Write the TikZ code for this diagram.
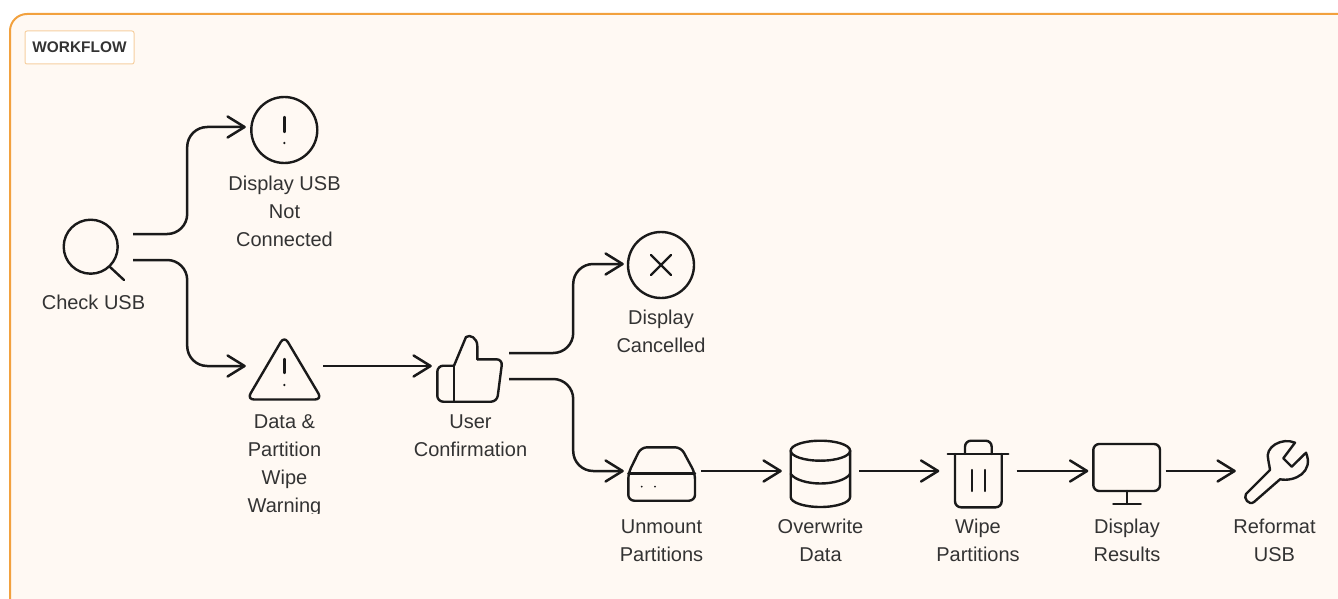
\documentclass[tikz,border=0pt]{standalone}
\usepackage{fontspec}
\setmainfont{Liberation Sans}
\usepackage{tikz}
\usetikzlibrary{arrows.meta}
\definecolor{frameorange}{HTML}{F2A13E}
\definecolor{framefill}{HTML}{FFF9F3}
\definecolor{badgeline}{HTML}{F6CFA0}
\definecolor{inkblack}{HTML}{1A1A1A}
\definecolor{labelgrey}{HTML}{333333}
\tikzset{
    iconbox/.style={inner sep=0, minimum width=77pt, minimum height=77pt},
    iconline/.style={draw=inkblack, line width=2.4pt, line join=round, line cap=round},
    flow/.style={draw=inkblack, line width=2.5pt, rounded corners=20pt,
        -{Straight Barb[length=17pt, width=21pt, line width=2.5pt, round]}},
    steplabel/.style={align=center, text=labelgrey, font=\fontsize{20}{28}\selectfont},
}

\begin{document}
\begin{tikzpicture}[x=1pt, y=-1pt]
    \useasboundingbox (0,0) rectangle (1338,599);
    \clip (0,0) rectangle (1338,599);

    \draw[frameorange, fill=framefill, line width=2pt, rounded corners=17pt] (10,14) rectangle (1370,640);
    \node[draw=badgeline, fill=white, rounded corners=2pt, line width=1pt, inner sep=0,
        minimum width=109pt, minimum height=33pt, text=labelgrey,
        font=\fontsize{15.4}{18}\selectfont\bfseries] (badge) at (79.5,47.5) {WORKFLOW};

    % icon slots, the connectors end on their sides
    \node[iconbox] (check) at (94.5,247) {};
    \node[iconbox] (notconn) at (284.5,127) {};
    \node[iconbox] (warn) at (284.5,366) {};
    \node[iconbox] (confirm) at (470.5,366) {};
    \node[iconbox] (cancelled) at (662.5,264) {};
    \node[iconbox] (unmount) at (662.5,471) {};
    \node[iconbox] (overwrite) at (820.5,471) {};
    \node[iconbox] (wipe) at (978,471) {};
    \node[iconbox] (results) at (1127,471) {};
    \node[iconbox] (reformat) at (1274.5,471) {};

    % labels
    \node[steplabel] (checklbl) at (93.5,302) {Check USB};
    \node[steplabel] (notconnlbl) at (284.5,211) {Display USB\\Not\\Connected};
    \node[steplabel] (confirmlbl) at (470.5,436) {User\\Confirmation};
    \node[steplabel] (cancelledlbl) at (661,331) {Display\\Cancelled};
    \node[steplabel] (unmountlbl) at (661.5,540.5) {Unmount\\Partitions};
    \node[steplabel] (overwritelbl) at (820.5,540) {Overwrite\\Data};
    \node[steplabel] (wipelbl) at (978,540) {Wipe\\Partitions};
    \node[steplabel] (resultslbl) at (1127,540) {Display\\Results};
    \node[steplabel] (reformatlbl) at (1274.5,540) {Reformat\\USB};
    \begin{scope}
        \clip (200,400) rectangle (400,513);
        \node[steplabel] (warnlbl) at (284.5,466) {Data \&\\Partition\\Wipe\\Warning};
    \end{scope}

    % connectors
    \draw[flow] ([yshift=13pt]check.east) -- ++(54,0) |- (notconn.west);
    \draw[flow] ([yshift=-13pt]check.east) -- ++(54,0) |- (warn.west);
    \draw[flow] (warn.east) -- (confirm.west);
    \draw[flow] ([yshift=13pt]confirm.east) -- ++(64,0) |- (cancelled.west);
    \draw[flow] ([yshift=-13pt]confirm.east) -- ++(64,0) |- (unmount.west);
    \draw[flow] (unmount.east) -- (overwrite.west);
    \draw[flow] (overwrite.east) -- (wipe.west);
    \draw[flow] (wipe.east) -- (results.west);
    \draw[flow] (results.east) -- (reformat.west);

    % magnifier
    \draw[iconline] (90.7,246.7) circle (27);
    \draw[iconline] (110,267) -- (124,280);
    % round warning
    \draw[iconline] (284.3,130) circle (33);
    \draw[iconline] (284.3,117) -- (284.3,132);
    \fill[inkblack] (284.3,143) circle (1.3);
    % triangle warning
    \draw[iconline, rounded corners=7pt] (284.3,336) -- (322,399.5) -- (247,399.5) -- cycle;
    \draw[iconline] (284.3,359) -- (284.3,373);
    \fill[inkblack] (284.3,385) circle (1.3);
    % thumb
    \draw[iconline, rounded corners=6pt] (454,365.7) -- (437.3,365.7) -- (437.3,401.7) -- (454,401.7);
    \draw[iconline] (454,365.7) -- (454,401.7);
    \draw[iconline] (454,365.7) -- (466,337) .. controls (470,334) and (477.3,338) .. (477.3,346) -- (477.3,359.3);
    \draw[iconline, rounded corners=6pt] (477.3,359.3) -- (502.5,359.3) -- (497,401.7) -- (454,401.7);
    % cross circle
    \draw[iconline] (661,265) circle (33);
    \draw[iconline] (651,255) -- (671,275) (671,255) -- (651,275);
    % drive
    \draw[iconline, rounded corners=6pt] (628.3,473.3) -- (641,447.3) -- (681,447.3) -- (695,473.3) -- (695,500.7) -- (628.3,500.7) -- cycle;
    \draw[iconline] (628.3,473.3) -- (695,473.3);
    \fill[inkblack] (641.7,486.7) circle (1) (655,486.7) circle (1);
    % database
    \draw[iconline] (820.4,450.7) ellipse (29.7 and 10);
    \draw[iconline] (790.7,450.7) -- (790.7,497) .. controls (790.7,502.5) and (804,507) .. (820.4,507) .. controls (836.8,507) and (850.1,502.5) .. (850.1,497) -- (850.1,450.7);
    \draw[iconline] (790.7,474) .. controls (795,480) and (808,483.5) .. (820.4,483.5) .. controls (833,483.5) and (846,480) .. (850.1,474);
    % trash
    \draw[iconline] (947.7,454) -- (1008.3,454);
    \draw[iconline, rounded corners=6pt] (955,454) -- (955,507.3) -- (1001.7,507.3) -- (1001.7,454);
    \draw[iconline, rounded corners=6pt] (965,454) -- (965,440.7) -- (991.7,440.7) -- (991.7,454);
    \draw[iconline] (971.7,470) -- (971.7,491) (985,470) -- (985,491);
    % monitor
    \draw[iconline, rounded corners=6pt] (1093.3,444) rectangle (1160,491);
    \draw[iconline] (1126.7,491) -- (1126.7,504) (1113.3,504) -- (1140.7,504);
    % wrench
    \draw[iconline] (1295,442.7) .. controls (1282,437) and (1264,447) .. (1268.3,460)
        .. controls (1269,465) and (1270,468) .. (1270,470) -- (1246,494)
        .. controls (1243,498) and (1249,506) .. (1254,502) -- (1280,479.3)
        .. controls (1295,482) and (1314,472) .. (1306,452.7) -- (1291.7,466.7)
        -- (1283.3,458.3) -- cycle;
\end{tikzpicture}
\end{document}
